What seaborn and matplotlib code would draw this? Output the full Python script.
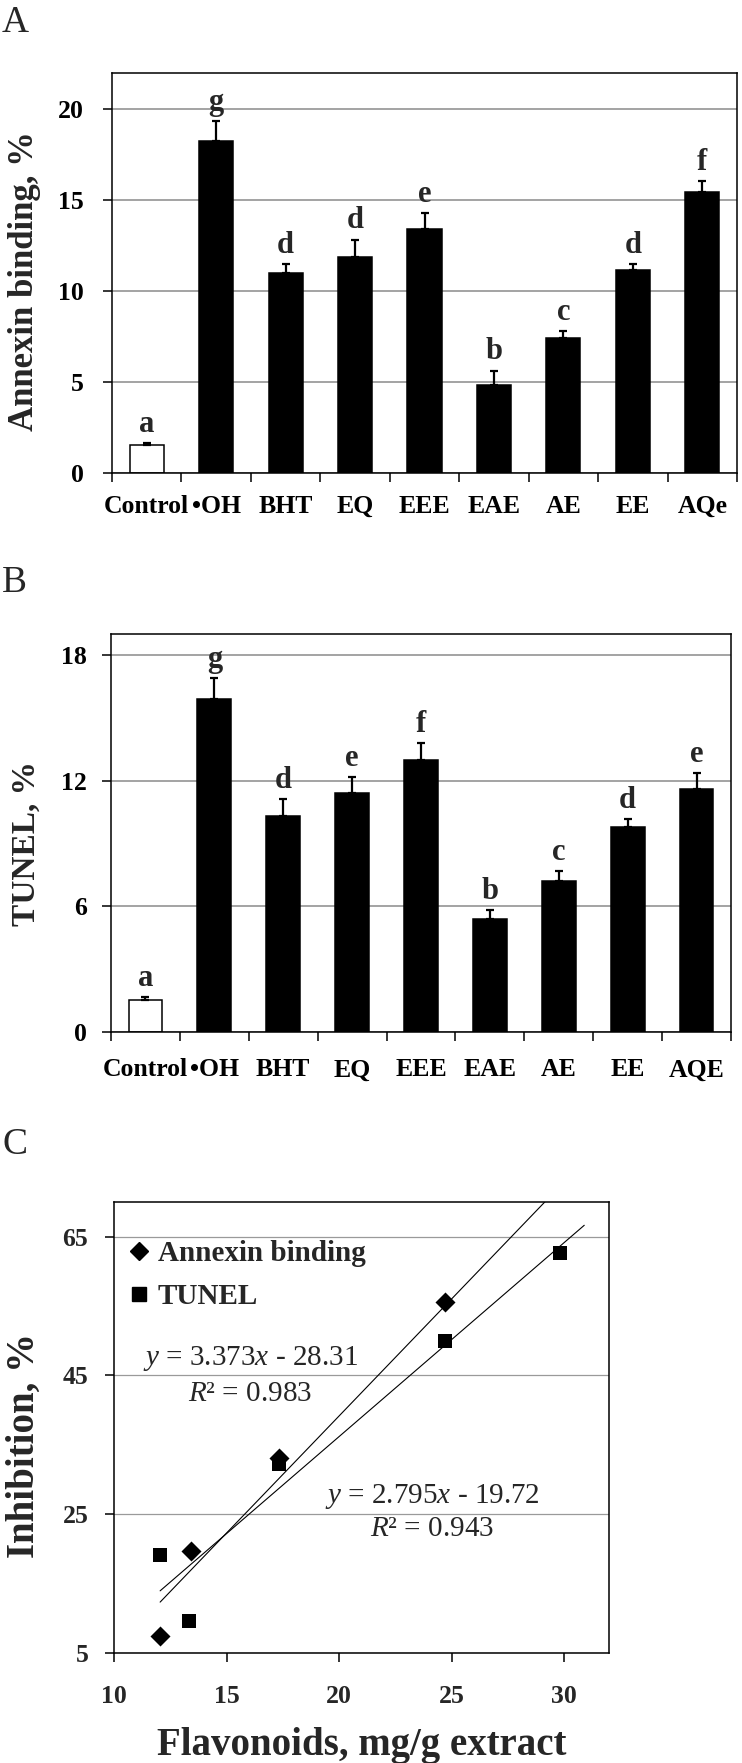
import numpy as np
import pandas as pd
import matplotlib
matplotlib.use("Agg")
import matplotlib.pyplot as plt
import seaborn as sns
from matplotlib.lines import Line2D

# ---------------- data ----------------
categories_a = ["Control", "•OH", "BHT", "EQ", "EEE", "EAE", "AE", "EE", "AQe"]
annexin_vals = [1.55, 18.27, 11.02, 11.88, 13.41, 4.86, 7.43, 11.14, 15.45]
annexin_err = [0.10, 1.08, 0.45, 0.96, 0.88, 0.77, 0.37, 0.37, 0.61]
annexin_letters = ["a", "g", "d", "d", "e", "b", "c", "d", "f"]
a_yticks = [0, 5, 10, 15, 20]

categories_b = ["Control", "•OH", "BHT", "EQ", "EEE", "EAE", "AE", "EE", "AQE"]
tunel_vals = [1.55, 15.91, 10.32, 11.42, 12.98, 5.38, 7.22, 9.78, 11.60]
tunel_err = [0.10, 0.99, 0.81, 0.75, 0.83, 0.43, 0.48, 0.37, 0.76]
tunel_letters = ["a", "g", "d", "e", "f", "b", "c", "d", "e"]
b_yticks = [0, 6, 12, 18]

flav_annexin = [12.05, 13.40, 17.32, 24.73]
inhib_annexin = [7.45, 19.77, 33.10, 55.60]
flav_tunel = [12.03, 13.35, 17.32, 24.73, 29.83]
inhib_tunel = [19.10, 9.57, 32.30, 49.90, 62.70]
fit_slopes = [3.373, 2.795]
fit_intercepts = [28.31, 19.72]
fit_r2 = ["0.983", "0.943"]
fit_xrange = [12.05, 30.9]
c_xticks = [10, 15, 20, 25, 30]
c_yticks = [5, 25, 45, 65]

# ---------------- style ----------------
sns.set_theme(style="ticks")
plt.rcParams["font.family"] = ["Liberation Serif", "DejaVu Serif"]
plt.rcParams["mathtext.fontset"] = "custom"
plt.rcParams["mathtext.rm"] = "Liberation Serif"
plt.rcParams["mathtext.it"] = "Liberation Serif:italic"
plt.rcParams["mathtext.bf"] = "Liberation Serif:bold"

W, H = 742, 1763
fig = plt.figure(figsize=(W / 100, H / 100), dpi=100)


def box(l, t, r, b):
    return [l / W, 1 - b / H, (r - l) / W, (b - t) / H]


def bar_panel(ax, cats, vals, errs, letters, yticks, ymax, xpad, ypad):
    df = pd.DataFrame({"cat": cats, "val": vals})
    pal = {c: ("white" if c == "Control" else "black") for c in cats}
    sns.barplot(data=df, x="cat", y="val", hue="cat", palette=pal, legend=False,
                width=0.49, edgecolor="black", linewidth=1.1, errorbar=None,
                saturation=1, ax=ax)
    xs = np.arange(len(cats))
    ax.errorbar(xs, vals, yerr=[np.zeros(len(errs)), errs], fmt="none",
                ecolor="black", elinewidth=1.6, capsize=3, capthick=1.6, zorder=4)
    for x, v, e, l in zip(xs, vals, errs, letters):
        ax.annotate(l, (x, v + e), xytext=(0, 3), textcoords="offset points",
                    ha="center", va="bottom", fontsize=22, fontweight="bold")
    ax.set_xlim(-0.5, len(cats) - 0.5)
    ax.set_ylim(0, ymax)
    ax.set_yticks(yticks)
    ax.set_yticklabels([str(t) for t in yticks])
    ax.yaxis.grid(True, color="#8a8a8a", linewidth=1.1)
    ax.set_axisbelow(True)
    ax.set_xticks(xs)
    ax.set_xticklabels(cats)
    ax.set_xticks(np.arange(-0.5, len(cats)), minor=True)
    ax.tick_params(axis="x", which="major", length=0, pad=xpad, labelsize=18.5)
    ax.tick_params(axis="x", which="minor", length=6.5, width=1.1,
                   direction="out", color="black", bottom=True)
    ax.tick_params(axis="y", length=6.5, width=1.1, direction="out",
                   pad=ypad, labelsize=18.5, color="black")
    for lab in ax.get_xticklabels() + ax.get_yticklabels():
        lab.set_fontweight("bold")
        lab.set_color("black")
    for s in ax.spines.values():
        s.set_visible(True)
        s.set_color("black")
        s.set_linewidth(1.1)
    ax.set_xlabel("")
    ax.set_ylabel("")


# Panel A
axa = fig.add_axes(box(112, 73, 737, 473))
bar_panel(axa, categories_a, annexin_vals, annexin_err, annexin_letters,
          a_yticks, 22, 16, 14)
fig.text(25 / W, 1 - 281 / H, "Annexin binding, %", rotation=90, ha="center",
         va="center", fontsize=25, fontweight="bold")
fig.text(2 / W, 1 - 5 / H, "A", fontsize=27, ha="left", va="top")

# Panel B
axb = fig.add_axes(box(111, 634, 731, 1032))
bar_panel(axb, categories_b, tunel_vals, tunel_err, tunel_letters,
          b_yticks, 19, 19, 11)
fig.text(26 / W, 1 - 844 / H, "TUNEL, %", rotation=90, ha="center",
         va="center", fontsize=24, fontweight="bold")
fig.text(2 / W, 1 - 565 / H, "B", fontsize=27, ha="left", va="top")

# Panel C
axc = fig.add_axes(box(114, 1202, 609, 1653))
dfa = pd.DataFrame({"x": flav_annexin, "y": inhib_annexin})
dft = pd.DataFrame({"x": flav_tunel, "y": inhib_tunel})
sns.scatterplot(data=dfa, x="x", y="y", marker="D", s=104, color="black",
                edgecolor="black", linewidth=0, ax=axc, zorder=4)
sns.scatterplot(data=dft, x="x", y="y", marker="s", s=100, color="black",
                edgecolor="black", linewidth=0, ax=axc, zorder=5)
xf = np.linspace(fit_xrange[0], fit_xrange[1], 50)
for m, b in zip(fit_slopes, fit_intercepts):
    axc.plot(xf, m * xf - b, color="black", linewidth=0.8, zorder=3)
axc.set_xlim(10, 32)
axc.set_ylim(5, 70)
axc.set_xticks(c_xticks)
axc.set_xticklabels([str(t) for t in c_xticks])
axc.set_yticks(c_yticks)
axc.set_yticklabels([str(t) for t in c_yticks])
axc.yaxis.grid(True, color="#9a9a9a", linewidth=0.9)
axc.set_axisbelow(True)
axc.tick_params(axis="x", length=6.5, width=1.1, direction="out", pad=16.5,
                labelsize=18.5, color="black")
axc.tick_params(axis="y", length=6.5, width=1.1, direction="out", pad=12,
                labelsize=18.5, color="black")
for lab in axc.get_xticklabels() + axc.get_yticklabels():
    lab.set_fontweight("bold")
for s in axc.spines.values():
    s.set_visible(True)
    s.set_color("black")
    s.set_linewidth(1.1)
axc.set_xlabel("")
axc.set_ylabel("")

eq_pos = [(16.05, 47.4, 42.4), (24.13, 27.5, 22.9)]
for (ex, ey1, ey2), m, b, r2 in zip(eq_pos, fit_slopes, fit_intercepts, fit_r2):
    axc.text(ex, ey1, f"$y$ = {m:.3f}$x$ - {b:.2f}", ha="center", va="center",
             fontsize=21)
    axc.text(ex, ey2, f"$R$² = {r2}", ha="center", va="center", fontsize=21)

handles = [Line2D([], [], marker="D", ls="none", color="black", markersize=9),
           Line2D([], [], marker="s", ls="none", color="black", markersize=10)]
axc.legend(handles, ["Annexin binding", "TUNEL"], loc="upper left",
           bbox_to_anchor=(0.03, 0.915), frameon=False,
           prop={"weight": "bold", "size": 21}, handlelength=0.7,
           handletextpad=0.3, labelspacing=0.55, borderaxespad=0, borderpad=0)

fig.text(24.8 / W, 1 - 1445 / H, "Inhibition, %", rotation=90, ha="center",
         va="center", fontsize=28, fontweight="bold")
fig.text(361.7 / W, 1 - 1745 / H, "Flavonoids, mg/g extract", ha="center",
         va="center", fontsize=28, fontweight="bold")
fig.text(2 / W, 1 - 1128 / H, "C", fontsize=27, ha="left", va="top")

fig.savefig("out.png", dpi=100)
